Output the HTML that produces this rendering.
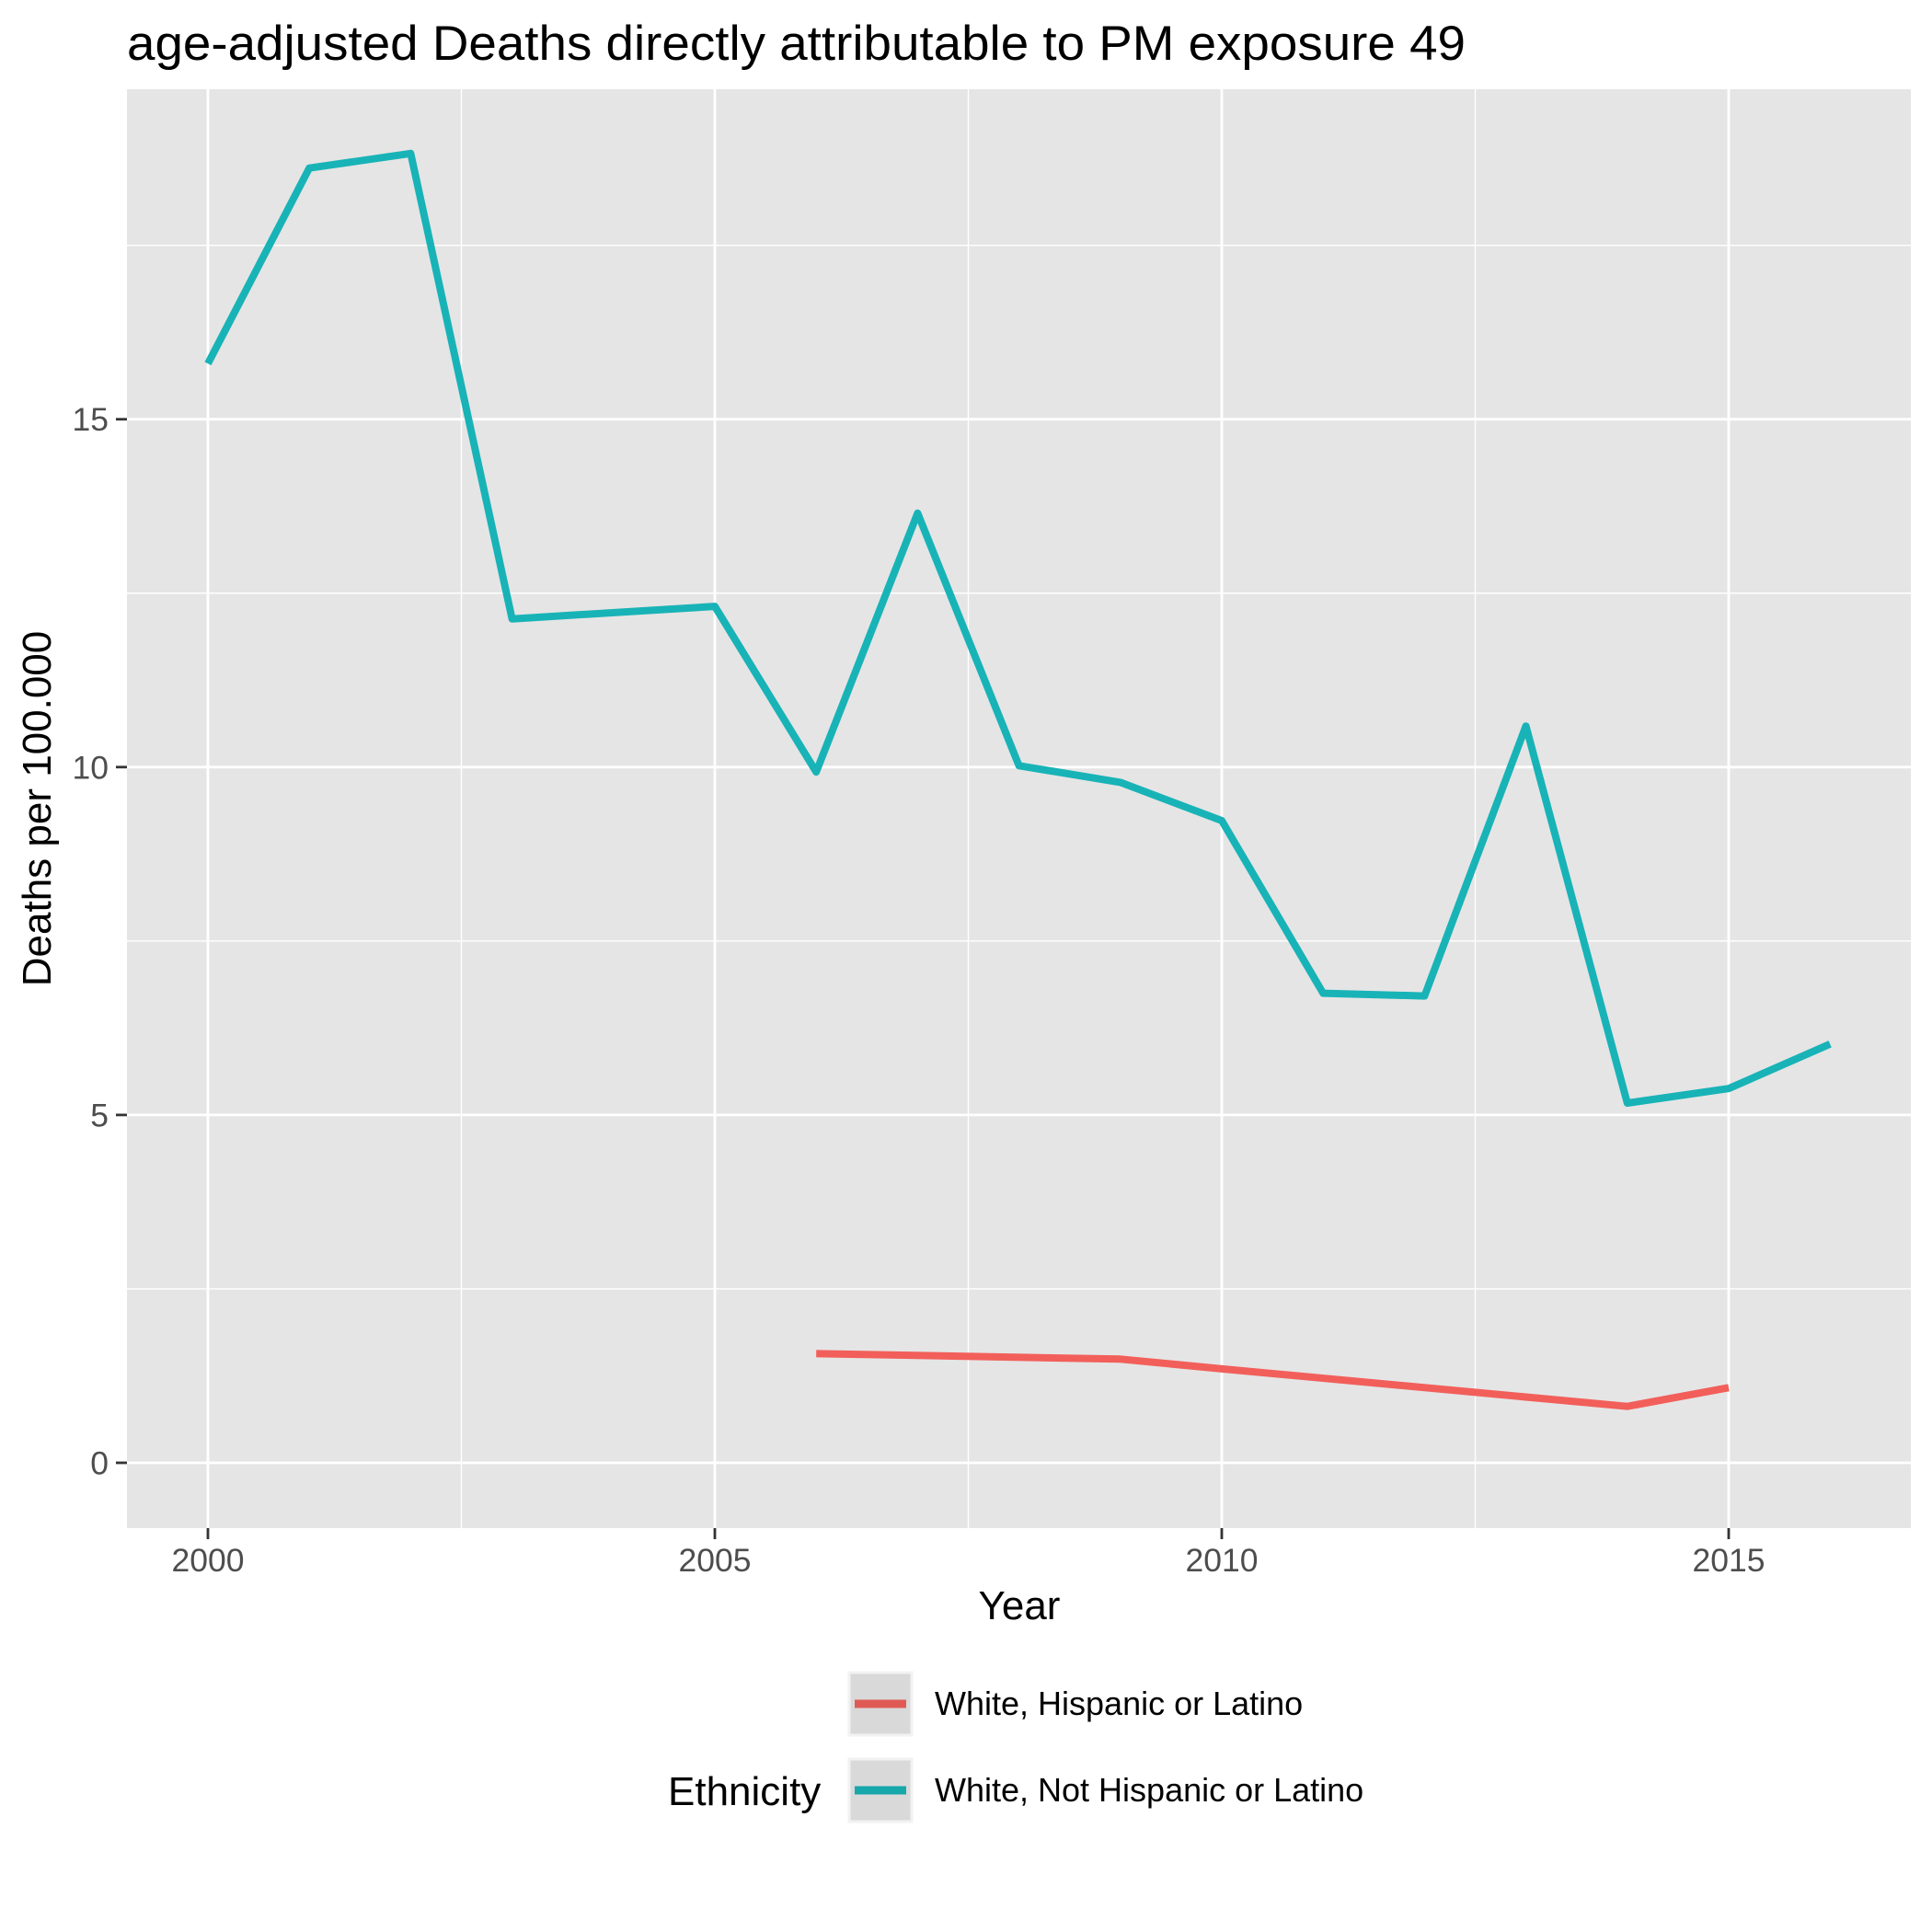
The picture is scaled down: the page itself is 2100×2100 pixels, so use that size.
<!DOCTYPE html>
<html><head><meta charset="utf-8"><style>
html,body{margin:0;padding:0;background:#fff;}
svg{display:block;font-family:"Liberation Sans",Arial,sans-serif;}
</style></head><body>
<svg id="chart" width="2100" height="2100" viewBox="0 0 2100 2100">
<rect x="0" y="0" width="2100" height="2100" fill="#fff"/>
<text x="138" y="65" font-size="53" fill="#000" textLength="1455" lengthAdjust="spacingAndGlyphs">age-adjusted Deaths directly attributable to PM exposure 49</text>
<rect x="138" y="97" width="1939" height="1564" fill="#e5e5e5"/>
<g id="grid"></g>
<g id="series"></g>
<g id="axes"></g>
<text x="1108" y="1760" font-size="44" text-anchor="middle" fill="#000">Year</text>
<text transform="translate(55,879) rotate(-90)" font-size="44" text-anchor="middle" fill="#000">Deaths per 100.000</text>
<g>
<text x="726" y="1962" font-size="44" fill="#000">Ethnicity</text>
<g>
<rect x="923" y="1818" width="68" height="68" fill="#d9d9d9" stroke="#f2f2f2" stroke-width="3"/>
<line x1="929" y1="1852" x2="985" y2="1852" stroke="#E05A55" stroke-width="9"/>
<text x="1016" y="1864" font-size="36" fill="#000">White, Hispanic or Latino</text>
</g>
<g>
<rect x="923" y="1912" width="68" height="68" fill="#d9d9d9" stroke="#f2f2f2" stroke-width="3"/>
<line x1="929" y1="1946" x2="985" y2="1946" stroke="#17A8AB" stroke-width="9"/>
<text x="1016" y="1958" font-size="36" fill="#000">White, Not Hispanic or Latino</text>
</g>
</g>
</svg>
<script>
const teal_years = [2000,2001,2002,2003,2005,2006,2007,2008,2009,2010,2011,2012,2013,2014,2015,2016];
const teal_values = [15.8,18.61,18.82,12.13,12.31,9.93,13.65,10.02,9.78,9.23,6.75,6.71,10.59,5.17,5.38,6.02];
const red_years = [2006,2009,2010,2014,2015];
const red_values = [1.57,1.49,1.35,0.81,1.08];
const x_ticks = [2000,2005,2010,2015];
const x_minor = [2002.5,2007.5,2012.5];
const y_ticks = [0,5,10,15];
const y_minor = [2.5,7.5,12.5,17.5];

const NS = "http://www.w3.org/2000/svg";
const PL=138, PR=2077, PT=97, PB=1661;
function xs(v){ return 226 + (v-2000)*110.2; }
function ys(v){ return 1590 - v*75.62; }
function mk(tag, attrs, parent){
  const e=document.createElementNS(NS,tag);
  for(const k in attrs) e.setAttribute(k,attrs[k]);
  parent.appendChild(e); return e;
}
const grid=document.getElementById('grid');
const axes=document.getElementById('axes');
const series=document.getElementById('series');
y_minor.forEach(v=>{
  const l=mk('line',{x1:PL,x2:PR,y1:ys(v),y2:ys(v),stroke:'#fff','stroke-width':1.4},grid);
  
  
});
x_minor.forEach(v=>{
  const l=mk('line',{x1:xs(v),x2:xs(v),y1:PT,y2:PB,stroke:'#fff','stroke-width':1.4},grid);
  
  
});
y_ticks.forEach(v=>{
  const l=mk('line',{x1:PL,x2:PR,y1:ys(v),y2:ys(v),stroke:'#fff','stroke-width':2.8},grid);
  
  
  const t=mk('line',{x1:PL-12,x2:PL,y1:ys(v),y2:ys(v),stroke:'#333','stroke-width':2.8},axes);
  
  
  const tx=mk('text',{x:118,y:ys(v)+12.5,'font-size':35.5,'text-anchor':'end',fill:'#4d4d4d'},axes);
  tx.textContent=String(v);
  
  
});
x_ticks.forEach(v=>{
  const l=mk('line',{x1:xs(v),x2:xs(v),y1:PT,y2:PB,stroke:'#fff','stroke-width':2.8},grid);
  
  
  const t=mk('line',{x1:xs(v),x2:xs(v),y1:PB,y2:PB+12,stroke:'#333','stroke-width':2.8},axes);
  
  
  const tx=mk('text',{x:xs(v),y:1708,'font-size':35.5,'text-anchor':'middle',fill:'#4d4d4d'},axes);
  tx.textContent=String(v);
  
  
});
function line(years, vals, color, name){
  const pts=years.map((y,i)=>xs(y).toFixed(1)+','+ys(vals[i]).toFixed(1)).join(' ');
  const p=mk('polyline',{points:pts,fill:'none',stroke:color,'stroke-width':8,'stroke-linejoin':'round','stroke-linecap':'butt'},series);
  
  
}
line(red_years, red_values, '#F25F5A', 'series-line-hispanic');
line(teal_years, teal_values, '#18B3B7', 'series-line-not-hispanic');
</script>
</body></html>
